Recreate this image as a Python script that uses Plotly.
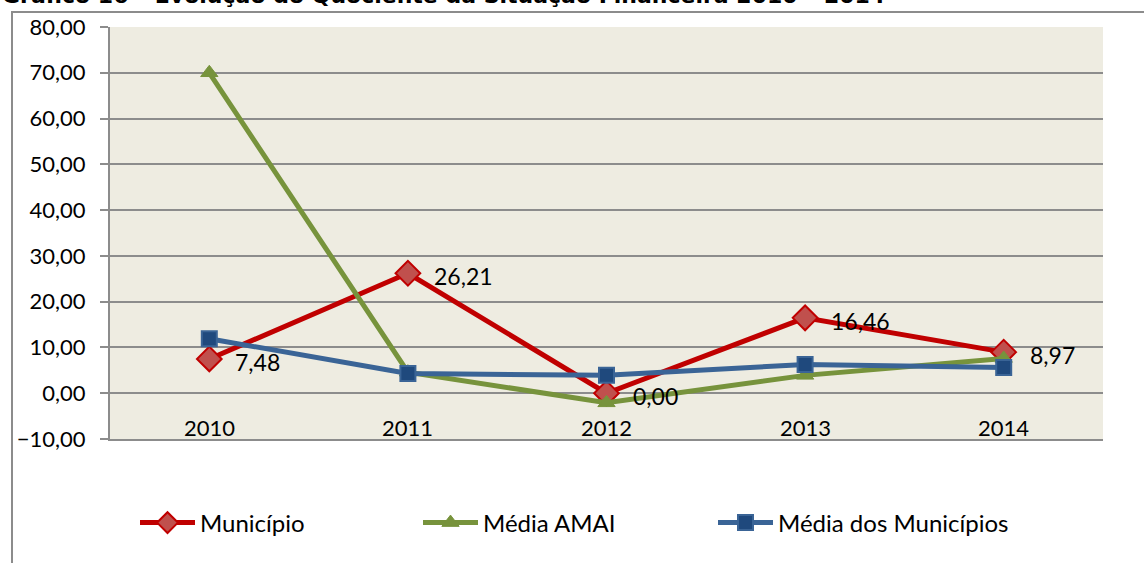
import plotly.graph_objects as go

years = ["2010", "2011", "2012", "2013", "2014"]
municipio = [7.48, 26.21, 0.00, 16.46, 8.97]
media_amai = [70.0, 4.6, -2.1, 3.9, 7.6]
media_municipios = [11.9, 4.3, 3.9, 6.3, 5.6]
municipio_labels = ["7,48", "26,21", "0,00", "16,46", "8,97"]
title_text = "Gráfico 16 – Evolução do Quociente da Situação Financeira 2010 – 2014"

W, H = 1144, 563
L, R, T, B = 110, 1103, 27, 439
pw, ph = R - L, B - T

def px(x):
    return (x - L) / pw

def py(y):
    return (B - y) / ph

FONT = "Lato"
grid = "#8c8c8c"

fig = go.Figure()
fig.add_trace(go.Scatter(
    x=years, y=municipio, name="Município", mode="lines+markers", legend="legend",
    line=dict(color="#C00000", width=5),
    marker=dict(symbol="diamond", size=19, color="#C0504D",
                line=dict(color="#C00000", width=2)),
))
fig.add_trace(go.Scatter(
    x=years, y=media_amai, name="Média AMAI", mode="lines+markers", legend="legend2",
    line=dict(color="#77933C", width=5),
    marker=dict(symbol="triangle-up", size=15, color="#77933C",
                line=dict(color="#77933C", width=1)),
))
fig.add_trace(go.Scatter(
    x=years, y=media_municipios, name="Média dos Municípios", mode="lines+markers",
    legend="legend3",
    line=dict(color="#3A6496", width=5),
    marker=dict(symbol="square", size=15, color="#1F497D",
                line=dict(color="#3A6496", width=2)),
))

annotations = [dict(x=i, y=0, xref="x", yref="y", text=yr, showarrow=False,
                    yshift=-34, yanchor="middle",
                    font=dict(family=FONT, size=22, color="#000000"))
               for i, yr in enumerate(years)]
annotations += [dict(x=i, y=v, xref="x", yref="y", text=lab, showarrow=False,
                     xanchor="left", yanchor="middle", xshift=24, yshift=-3,
                     font=dict(family=FONT, size=23, color="#000000"))
                for i, (v, lab) in enumerate(zip(municipio, municipio_labels))]
annotations.append(dict(x=px(0), y=py(10), xref="paper", yref="paper",
                        xanchor="left", yanchor="bottom", showarrow=False,
                        text="<b>" + title_text + "</b>",
                        font=dict(family="DejaVu Sans", size=22, color="#000000")))

leg_common = dict(orientation="h", xanchor="left", yanchor="middle", y=py(523),
                  font=dict(family=FONT, size=24, color="#000000"),
                  itemwidth=55, bgcolor="rgba(0,0,0,0)")

fig.update_layout(
    width=W, height=H,
    margin=dict(l=L, r=W - R, t=T, b=H - B, pad=0),
    paper_bgcolor="#FFFFFF",
    plot_bgcolor="#EEECE1",
    separators=",.",
    showlegend=True,
    legend=dict(x=px(135), **leg_common),
    legend2=dict(x=px(418), **leg_common),
    legend3=dict(x=px(713), **leg_common),
    annotations=annotations,
    shapes=[dict(type="rect", xref="paper", yref="paper",
                 x0=px(12), y0=py(12), x1=px(1200), y1=py(620),
                 line=dict(color=grid, width=2), fillcolor="rgba(0,0,0,0)", layer="below")],
)
fig.update_xaxes(type="category", showticklabels=False, showgrid=False, zeroline=False,
                 showline=True, linecolor=grid, linewidth=2, ticks="",
                 range=[-0.5, 4.5])
fig.update_yaxes(range=[-10, 80], dtick=10, tick0=0, tickformat=".2f",
                 showgrid=True, gridcolor=grid, gridwidth=2, zeroline=False,
                 showline=True, linecolor=grid, linewidth=2,
                 ticks="outside", ticklen=8, tickcolor=grid, tickwidth=2,
                 ticklabelstandoff=10,
                 tickfont=dict(family=FONT, size=22, color="#000000"))

fig.write_html("out.html", config={"displayModeBar": False},
               post_script="document.body.style.margin='0';")
